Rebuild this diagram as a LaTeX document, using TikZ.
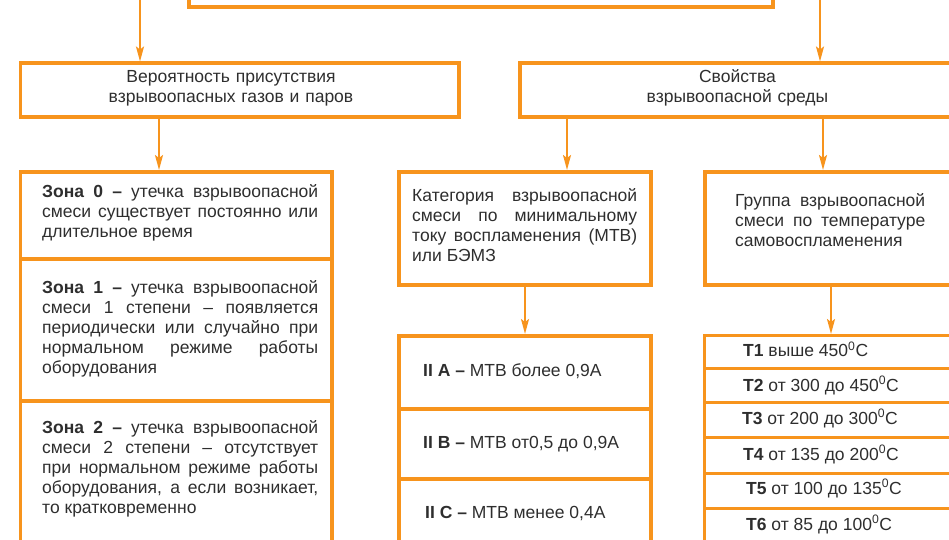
\documentclass[tikz,border=0pt]{standalone}
\usepackage{fontspec}
\setmainfont{Liberation Sans}
\usetikzlibrary{arrows.meta}
\definecolor{orng}{HTML}{F7941D}
\definecolor{ink}{HTML}{2E2E2E}

\begin{document}
\begin{tikzpicture}[x=1bp, y=-1bp,
  box/.style={draw=orng, line width=3.8bp, anchor=north west, inner sep=0pt},
  cell/.style={draw=orng, line width=3.4bp, anchor=north west, inner sep=0pt, minimum width=280bp},
  txt/.style={text=ink, inner sep=0pt, font=\fontsize{17.5bp}{20bp}\selectfont},
  para/.style={txt, anchor=base west, align=justify},
  arr/.style={orng, line width=2bp, -{Stealth[length=15bp, width=8bp, inset=3bp]}}]
  \useasboundingbox (0,0) rectangle (949,540);
  \clip (0,0) rectangle (949,540);
  % Columns of the arrows.
  \coordinate (srcL) at (140,-5);
  \coordinate (srcR) at (820,-5);
  \coordinate (colA) at (159,0);
  \coordinate (colB) at (567,0);
  \coordinate (colC) at (823,0);
  \coordinate (colD) at (525,0);
  \coordinate (colE) at (831,0);
  % Top block, cut off by the frame.
  \node[box, anchor=south west, minimum width=584bp, minimum height=80bp] (top) at (187,9) {};
  % Second row.
  \node[box, minimum width=438.5bp, minimum height=54bp] (prob) at (18.5,61.5) {};
  \node[txt, anchor=base, text width=320bp, align=center] (probtxt) at (231,83)
    {Вероятность присутствия\\взрывоопасных газов и паров};
  \node[box, minimum width=460bp, minimum height=54bp] (props) at (518,61.5) {};
  \node[txt, anchor=base, text width=320bp, align=center] (propstxt) at (737.5,83)
    {Свойства\\взрывоопасной среды};
  % Zones.
  \node[box, minimum width=311.5bp, minimum height=87bp] (zone0) at (18.5,170) {};
  \node[box, minimum width=311.5bp, minimum height=142bp] (zone1) at (18.5,257) {};
  \node[box, minimum width=311.5bp, minimum height=170bp] (zone2) at (18.5,399) {};
  \node[para, text width=276bp] (zone0txt) at (42,198)
    {\textbf{Зона 0 –} утечка взрывоопасной\linebreak смеси существует постоянно или\linebreak длительное время};
  \node[para, text width=276bp] (zone1txt) at (42,294)
    {\textbf{Зона 1 –} утечка взрывоопасной\linebreak смеси 1 степени – появляется\linebreak периодически или случайно при\linebreak нормальном режиме работы\linebreak оборудования};
  \node[para, text width=276bp] (zone2txt) at (42,433)
    {\textbf{Зона 2 –} утечка взрывоопасной\linebreak смеси 2 степени – отсутствует\linebreak при нормальном режиме работы\linebreak оборудования, а если возникает,\linebreak то кратковременно};
  % Category by ignition current.
  \node[box, minimum width=252bp, minimum height=113bp] (categ) at (397,170) {};
  \node[para, text width=225bp] (categtxt) at (412,202)
    {Категория взрывоопасной\linebreak смеси по минимальному\linebreak току воспламенения (МТВ)\linebreak или БЭМЗ};
  \node[box, minimum width=252bp, minimum height=73bp] (mtb1) at (397,334) {};
  \node[box, minimum width=252bp, minimum height=70bp] (mtb2) at (397,407) {};
  \node[box, minimum width=252bp, minimum height=90bp] (mtb3) at (397,477) {};
  \node[txt, anchor=base west] (mtb1txt) at (423,377) {\textbf{II A –} МТВ более 0,9А};
  \node[txt, anchor=base west] (mtb2txt) at (423,448) {\textbf{II B –} МТВ от0,5 до 0,9А};
  \node[txt, anchor=base west] (mtb3txt) at (425,518) {\textbf{II C –} МТВ менее 0,4А};
  % Group by ignition temperature.
  \node[box, minimum width=280bp, minimum height=113bp] (group) at (703,170) {};
  \node[para, text width=190bp] (grouptxt) at (735,207)
    {Группа взрывоопасной\linebreak смеси по температуре\linebreak самовоспламенения};
  \node[cell, minimum height=33bp] (t1) at (703,334) {};
  \node[cell, minimum height=34bp] (t2) at (703,367) {};
  \node[cell, minimum height=34.5bp] (t3) at (703,401) {};
  \node[cell, minimum height=36bp] (t4) at (703,435.5) {};
  \node[cell, minimum height=35bp] (t5) at (703,471.5) {};
  \node[cell, minimum height=60bp] (t6) at (703,506.5) {};
  \node[txt, anchor=base west] (t1txt) at (743,357) {\textbf{T1} выше 450\textsuperscript{0}C};
  \node[txt, anchor=base west] (t2txt) at (743,391) {\textbf{T2} от 300 до 450\textsuperscript{0}C};
  \node[txt, anchor=base west] (t3txt) at (742,424) {\textbf{T3} от 200 до 300\textsuperscript{0}C};
  \node[txt, anchor=base west] (t4txt) at (743,460) {\textbf{T4} от 135 до 200\textsuperscript{0}C};
  \node[txt, anchor=base west] (t5txt) at (746,494) {\textbf{T5} от 100 до 135\textsuperscript{0}C};
  \node[txt, anchor=base west] (t6txt) at (746,530) {\textbf{T6} от 85 до 100\textsuperscript{0}C};
  % Arrows.
  \draw[arr] (srcL) -- (srcL |- prob.north);
  \draw[arr] (srcR) -- (srcR |- props.north);
  \draw[arr] (colA |- prob.south) -- (colA |- zone0.north);
  \draw[arr] (colB |- props.south) -- (colB |- categ.north);
  \draw[arr] (colC |- props.south) -- (colC |- group.north);
  \draw[arr] (colD |- categ.south) -- (colD |- mtb1.north);
  \draw[arr] (colE |- group.south) -- (colE |- t1.north);
\end{tikzpicture}
\end{document}
